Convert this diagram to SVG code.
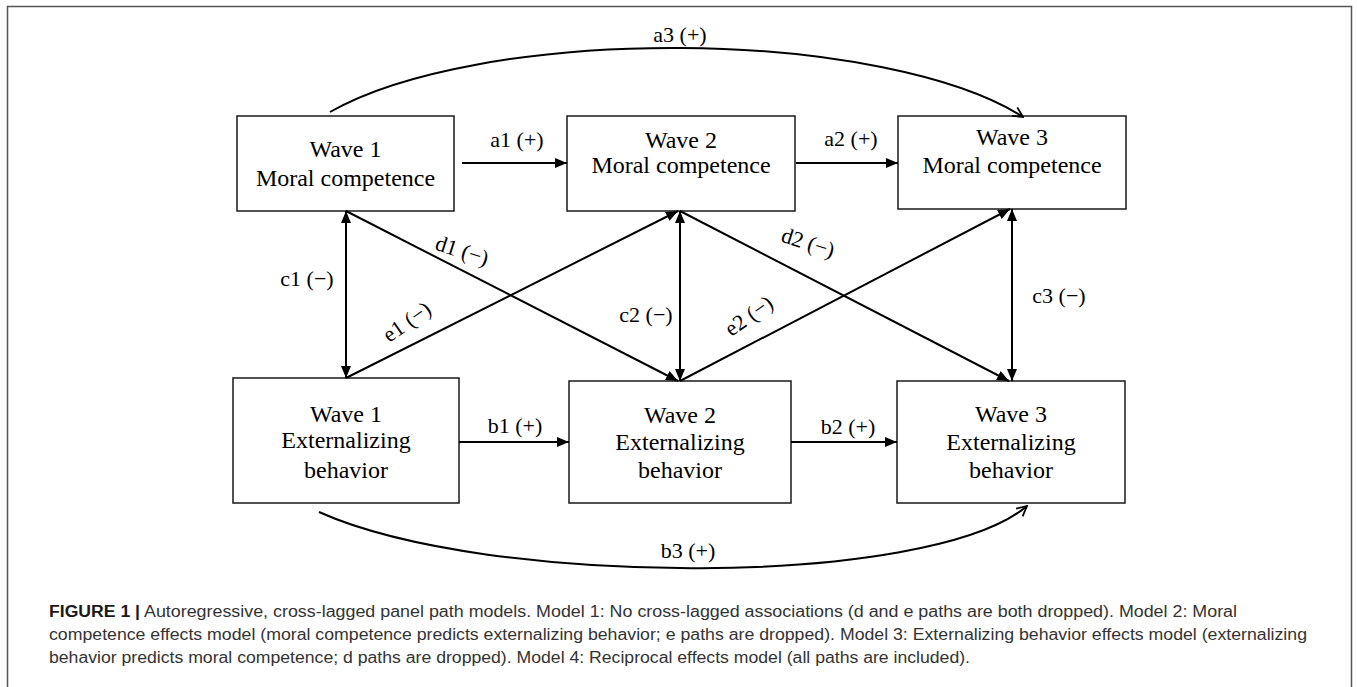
<svg xmlns="http://www.w3.org/2000/svg" width="1357" height="687" viewBox="0 0 1357 687">
<defs>
<style>
.box{fill:#fff;stroke:#1a1a1a;stroke-width:1.5}
.nt{font-family:"Liberation Serif","Times New Roman",serif;font-size:24px;fill:#000;text-anchor:middle}
.lbl{font-family:"Liberation Serif","Times New Roman",serif;font-size:22px;fill:#000;text-anchor:middle}
.arr{fill:none;stroke:#000;stroke-width:2}
.one{marker-end:url(#tri)}
.two{marker-start:url(#tri);marker-end:url(#tri)}
.curve{fill:none;stroke:#000;stroke-width:2;marker-end:url(#open)}
.cap{font-family:"Liberation Sans Narrow","Liberation Sans",Arial,sans-serif;font-size:16px;fill:#333}
.capb{font-weight:bold;fill:#1a1a1a}
</style>
<marker id="tri" viewBox="0 0 12 10" refX="12" refY="5" markerWidth="12" markerHeight="10" markerUnits="userSpaceOnUse" orient="auto-start-reverse"><path d="M0,0 L12,5 L0,10 Z" fill="#000"/></marker>
<marker id="open" viewBox="0 0 12 12" refX="11" refY="6" markerWidth="12" markerHeight="12" markerUnits="userSpaceOnUse" orient="auto"><path d="M1,1 L11,6 L1,11" fill="none" stroke="#000" stroke-width="1.8"/></marker>
</defs>
<rect x="0" y="0" width="1357" height="687" fill="#fff"/>
<rect id="frame" x="7.5" y="6.5" width="1344" height="700" fill="none" stroke="#555" stroke-width="1.5"/>

<g id="n-w1-moral">
<rect class="box" x="237" y="116" width="217" height="95"/>
<text class="nt" x="345.5" y="157">Wave 1</text>
<text class="nt" x="345.5" y="186">Moral competence</text>
</g>
<g id="n-w2-moral">
<rect class="box" x="567" y="116" width="228" height="95"/>
<text class="nt" x="681" y="148">Wave 2</text>
<text class="nt" x="681" y="173">Moral competence</text>
</g>
<g id="n-w3-moral">
<rect class="box" x="898" y="116" width="228" height="93"/>
<text class="nt" x="1012" y="145">Wave 3</text>
<text class="nt" x="1012" y="173">Moral competence</text>
</g>
<g id="n-w1-ext">
<rect class="box" x="233" y="378" width="226" height="125"/>
<text class="nt" x="346" y="422">Wave 1</text>
<text class="nt" x="346" y="448">Externalizing</text>
<text class="nt" x="346" y="478">behavior</text>
</g>
<g id="n-w2-ext">
<rect class="box" x="569" y="381" width="222" height="122"/>
<text class="nt" x="680" y="423">Wave 2</text>
<text class="nt" x="680" y="450">Externalizing</text>
<text class="nt" x="680" y="478">behavior</text>
</g>
<g id="n-w3-ext">
<rect class="box" x="897" y="381" width="228" height="122"/>
<text class="nt" x="1011" y="422">Wave 3</text>
<text class="nt" x="1011" y="450">Externalizing</text>
<text class="nt" x="1011" y="478">behavior</text>
</g>

<g id="connectors">
<path class="arr one" d="M462,163 L567,163"/>
<path class="arr one" d="M796,163 L898,163"/>
<path class="arr one" d="M459,442 L569,442"/>
<path class="arr one" d="M791,442 L897,442"/>
<path class="arr two" d="M346,211 L346,378"/>
<path class="arr two" d="M680,211 L680,381"/>
<path class="arr two" d="M1012,209 L1012,381"/>
<path class="arr one" d="M346,211 L678,381"/>
<path class="arr one" d="M680,211 L1009,381"/>
<path class="arr one" d="M346,378 L678,211"/>
<path class="arr one" d="M680,381 L1010,209"/>
<path class="curve" d="M330,112 A391,124 0 0 1 1023,117"/>
<path class="curve" d="M319,512 C489,588 930,588 1027,506"/>
<text class="lbl" x="680" y="42">a3 (+)</text>
<text class="lbl" x="517" y="147">a1 (+)</text>
<text class="lbl" x="851" y="146">a2 (+)</text>
<text class="lbl" x="515" y="433">b1 (+)</text>
<text class="lbl" x="848" y="434">b2 (+)</text>
<text class="lbl" x="688" y="558">b3 (+)</text>
<text class="lbl" x="307" y="286">c1 (−)</text>
<text class="lbl" x="646" y="322">c2 (−)</text>
<text class="lbl" x="1059" y="303">c3 (−)</text>
<text class="lbl" transform="translate(462,251) rotate(18)" y="7">d1 (−)</text>
<text class="lbl" transform="translate(808,243) rotate(18)" y="7">d2 (−)</text>
<text class="lbl" transform="translate(407,322) rotate(-35)" y="7">e1 (−)</text>
<text class="lbl" transform="translate(749,316) rotate(-35)" y="7">e2 (−)</text>
</g>

<g id="caption">
<text class="cap capb" x="49" y="617" textLength="91" lengthAdjust="spacingAndGlyphs">FIGURE 1 |</text>
<text class="cap" x="144" y="617" textLength="1093" lengthAdjust="spacingAndGlyphs">Autoregressive, cross-lagged panel path models. Model 1: No cross-lagged associations (d and e paths are both dropped). Model 2: Moral</text>
<text class="cap" x="49" y="640" textLength="1258" lengthAdjust="spacingAndGlyphs">competence effects model (moral competence predicts externalizing behavior; e paths are dropped). Model 3: Externalizing behavior effects model (externalizing</text>
<text class="cap" x="49" y="663" textLength="921" lengthAdjust="spacingAndGlyphs">behavior predicts moral competence; d paths are dropped). Model 4: Reciprocal effects model (all paths are included).</text>
</g>
</svg>
